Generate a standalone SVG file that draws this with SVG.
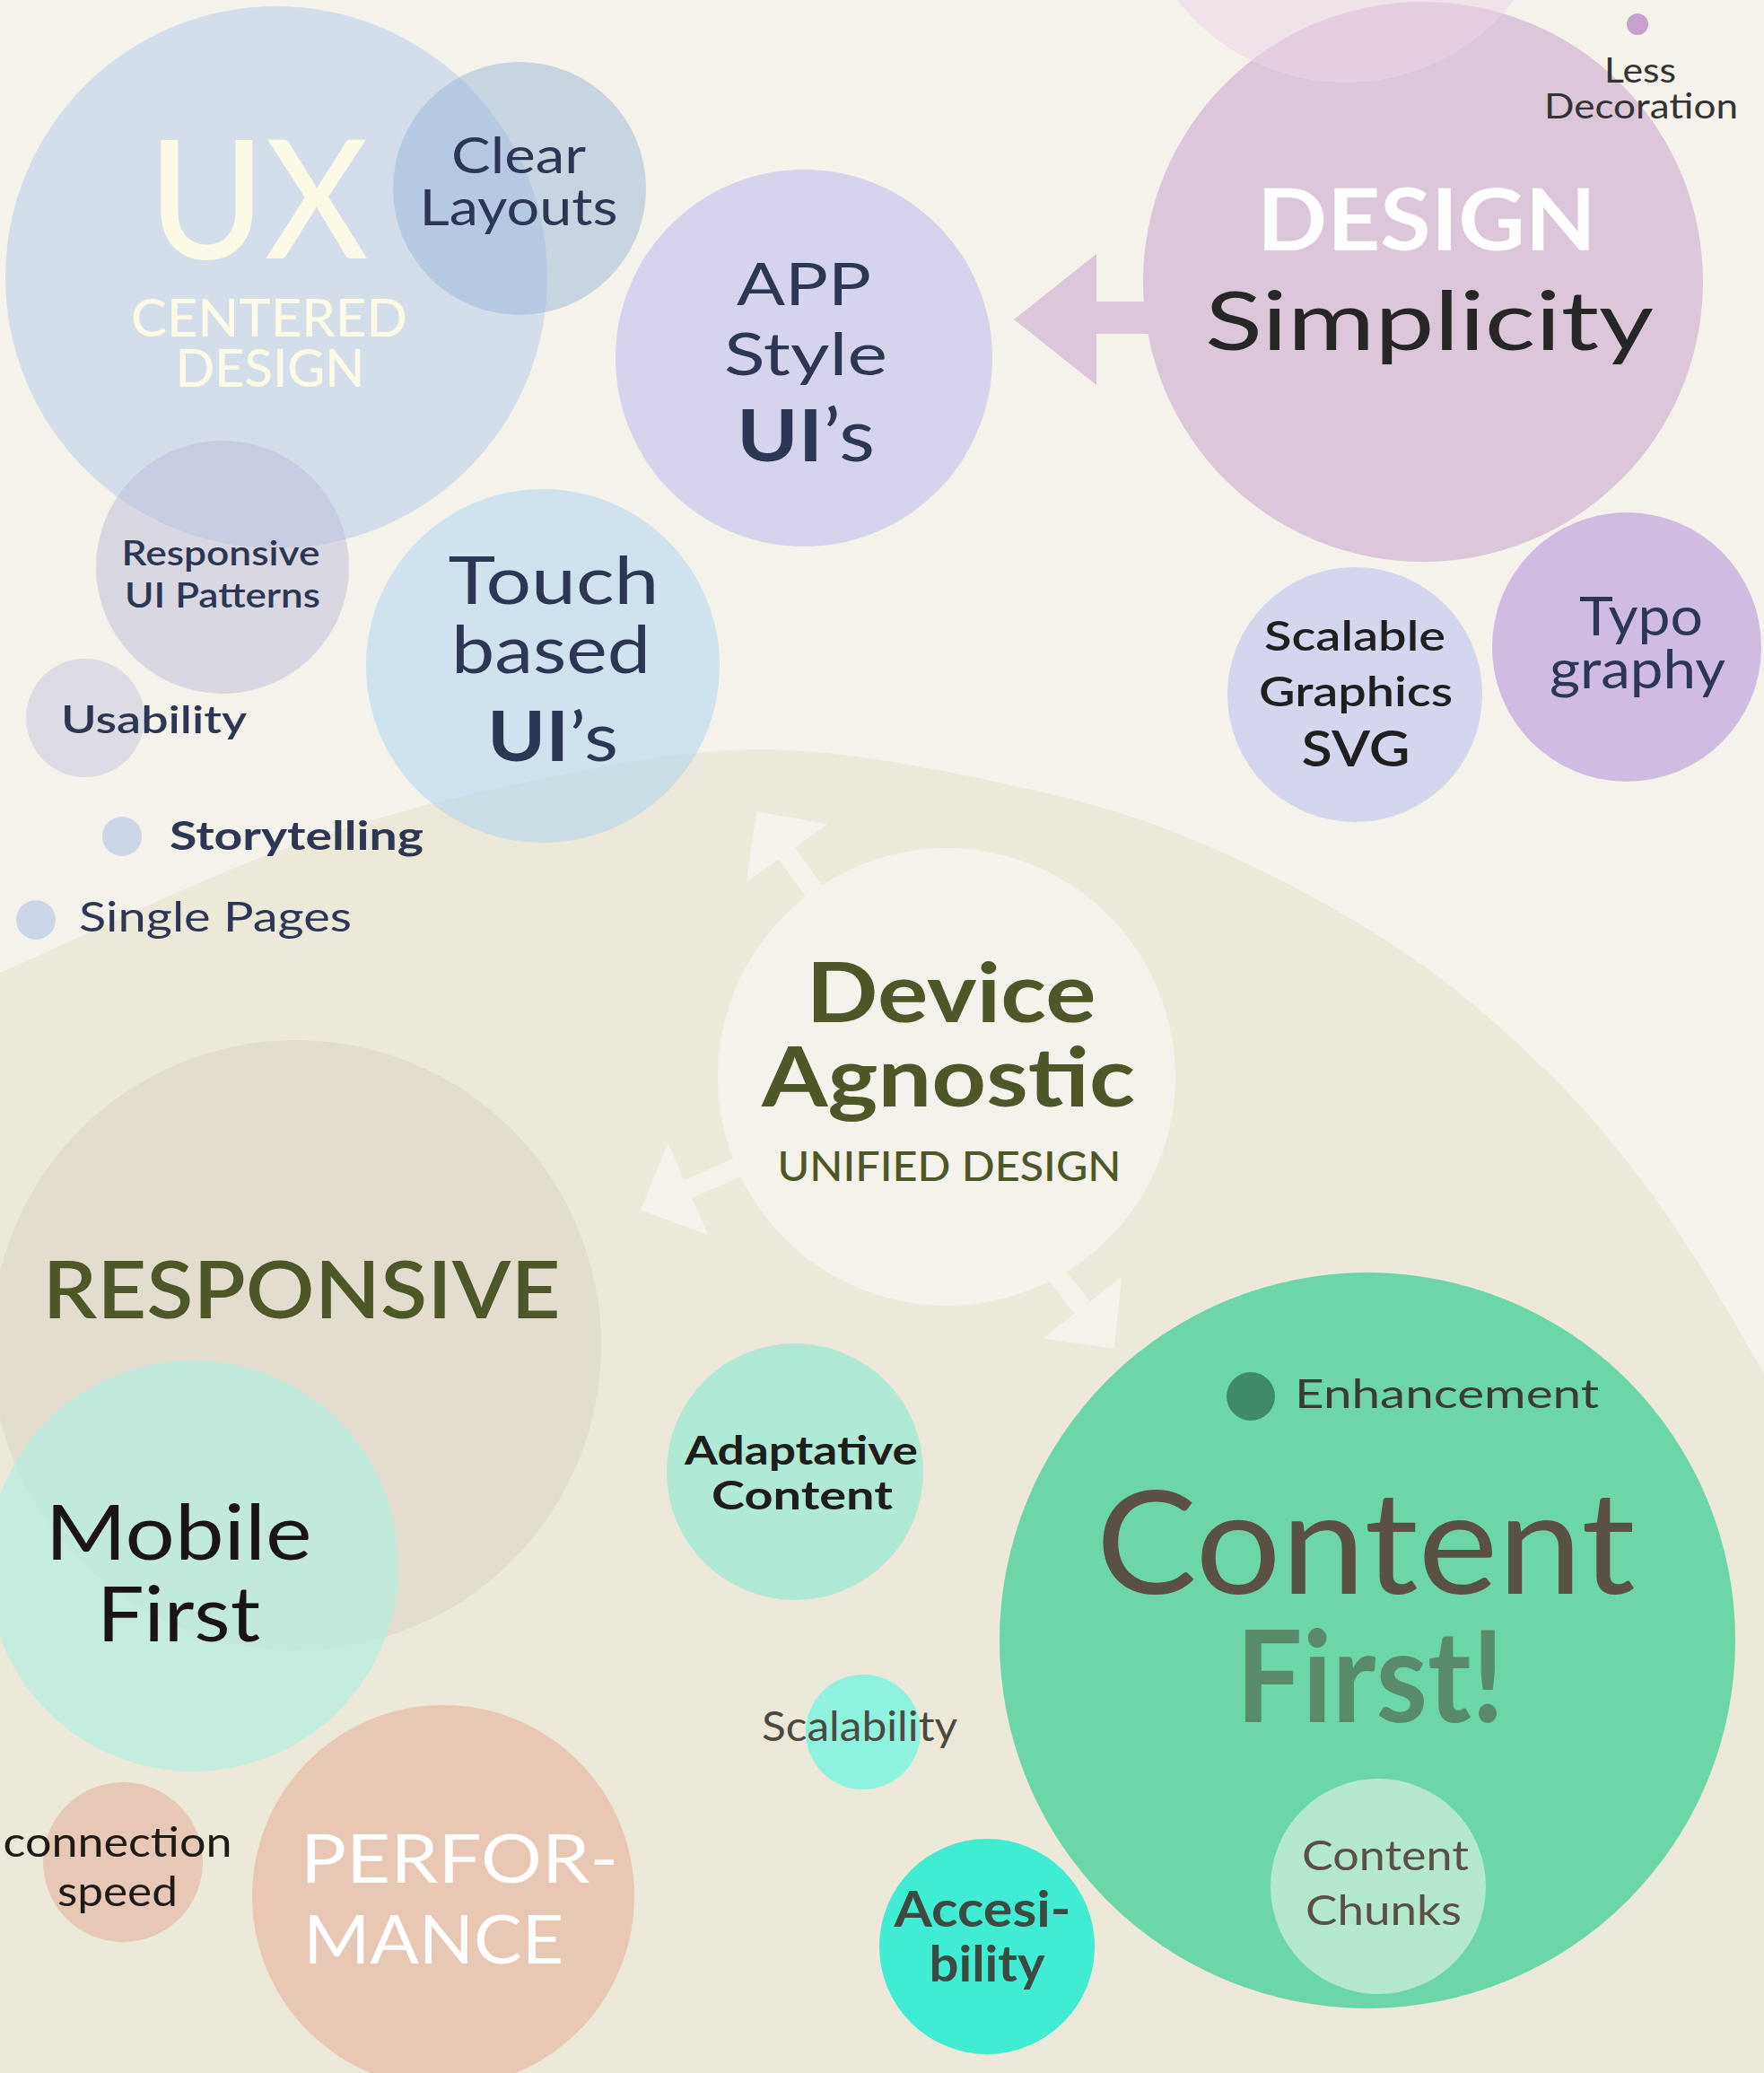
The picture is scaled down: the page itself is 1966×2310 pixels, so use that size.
<svg xmlns="http://www.w3.org/2000/svg" width="1966" height="2310" viewBox="0 0 1966 2310">
<style>
text{font-family:Lato,"Noto Sans","Liberation Sans",sans-serif;}
.c{text-anchor:middle;}
.s{text-anchor:start;}
.navy{fill:#2D3652;}
.olive{fill:#4E5727;}
.b{font-weight:700;}
.sb{font-weight:600;}
.m{font-weight:500;}
.arr{stroke:#F4F2EA;stroke-width:22;fill:none;marker-end:url(#ah);}
</style>
<defs>
<marker id="ah" markerUnits="userSpaceOnUse" markerWidth="60" markerHeight="112" viewBox="0 0 60 112" refX="0" refY="56" orient="auto">
<path d="M0,0 L58,56 L0,112 Z" fill="#F4F2EA"/>
</marker>
</defs>
<rect width="1966" height="2310" fill="#F4F2EA"/>
<path id="beige-region" d="M0,1084 C100,1040 207,987 300,952 C393,918 468,897 560,877 C652,858 752,835 850,835 C948,836 1065,861 1150,880 C1235,899 1289,918 1358,948 C1427,978 1505,1021 1566,1062 C1627,1103 1679,1150 1722,1192 C1766,1234 1797,1273 1827,1312 C1858,1351 1882,1391 1905,1427 C1928,1464 1946,1496 1966,1531 L1966,2310 L0,2310 Z" fill="#ECE8DA"/>

<g id="connectors">
<polygon id="arrow-design-app" points="1130,356 1222,283 1222,336 1295,336 1295,372 1222,372 1222,429" fill="#DCC6DA"/>
<line id="arrow-device-up" class="arr" x1="918" y1="1008" x2="877" y2="951"/>
<line id="arrow-device-left" class="arr" x1="831" y1="1297" x2="767" y2="1325"/>
<line id="arrow-device-content" class="arr" x1="1163" y1="1402" x2="1206" y2="1457"/>
</g>

<g id="n-ux">
<circle cx="308" cy="309" r="302" fill="#D4DEEA"/>
<text class="c m" x="288" y="288" font-size="184" fill="#FCFAE6" textLength="245" lengthAdjust="spacingAndGlyphs">UX</text>
<text class="c m" x="300" y="375" font-size="57" fill="#FCFAE6" textLength="308" lengthAdjust="spacingAndGlyphs">CENTERED</text>
<text class="c m" x="301" y="431" font-size="57" fill="#FCFAE6" textLength="211" lengthAdjust="spacingAndGlyphs">DESIGN</text>
</g>
<g id="n-clear-layouts">
<circle cx="579" cy="210" r="141" fill="#94AFD6" fill-opacity="0.45"/>
<text class="c navy" x="578" y="193" font-size="56" textLength="150" lengthAdjust="spacingAndGlyphs">Clear</text>
<text class="c navy" x="578" y="251" font-size="56" textLength="221" lengthAdjust="spacingAndGlyphs">Layouts</text>
</g>
<g id="n-responsive-ui">
<circle cx="248" cy="632" r="141" fill="#B8B6D8" fill-opacity="0.45"/>
<text class="c navy sb" x="246" y="630" font-size="38" textLength="221" lengthAdjust="spacingAndGlyphs">Responsive</text>
<text class="c navy sb" x="248" y="677" font-size="38" textLength="218" lengthAdjust="spacingAndGlyphs">UI Patterns</text>
</g>
<g id="n-app-style">
<circle cx="896" cy="399" r="210" fill="#D5D4EC"/>
<text class="c navy" x="896" y="340" font-size="66" textLength="150" lengthAdjust="spacingAndGlyphs">APP</text>
<text class="c navy" x="898" y="418" font-size="66" textLength="182" lengthAdjust="spacingAndGlyphs">Style</text>
<text class="c navy" x="898" y="514" font-size="81" textLength="154" lengthAdjust="spacingAndGlyphs"><tspan class="b">UI</tspan>’s</text>
</g>
<g id="n-touch">
<circle cx="605" cy="742" r="197" fill="#B1D5EE" fill-opacity="0.55"/>
<text class="c navy" x="617" y="673" font-size="73" textLength="235" lengthAdjust="spacingAndGlyphs">Touch</text>
<text class="c navy" x="614" y="750" font-size="73" textLength="222" lengthAdjust="spacingAndGlyphs">based</text>
<text class="c navy" x="616" y="848" font-size="76" textLength="146" lengthAdjust="spacingAndGlyphs"><tspan class="b">UI</tspan>’s</text>
</g>
<g id="n-usability">
<circle cx="95" cy="800" r="66" fill="#DDDBE4"/>
<text class="s navy sb" x="68" y="817" font-size="43" textLength="207" lengthAdjust="spacingAndGlyphs">Usability</text>
</g>
<g id="n-storytelling">
<circle cx="136" cy="932" r="22" fill="#CCD6E6"/>
<text class="s navy b" x="189" y="947" font-size="43" textLength="283" lengthAdjust="spacingAndGlyphs">Storytelling</text>
</g>
<g id="n-single-pages">
<circle cx="40" cy="1025" r="22" fill="#CCD6E6"/>
<text class="s navy" x="88" y="1038" font-size="47" textLength="304" lengthAdjust="spacingAndGlyphs">Single Pages</text>
</g>

<g id="n-design-simplicity">
<circle cx="1586" cy="314" r="312" fill="#DCC6DA"/>
<circle cx="1500" cy="-146" r="238" fill="#EBD6E6" fill-opacity="0.55"/>
<text class="c b" x="1590" y="279" font-size="95" fill="#FFFFFF" textLength="378" lengthAdjust="spacingAndGlyphs">DESIGN</text>
<text class="c" x="1593" y="390" font-size="92" fill="#262626" textLength="500" lengthAdjust="spacingAndGlyphs">Simplicity</text>
</g>
<g id="n-less-decoration">
<circle cx="1825" cy="27" r="12" fill="#C8A2CF"/>
<text class="c" x="1828" y="92" font-size="39" fill="#333333" textLength="80" lengthAdjust="spacingAndGlyphs">Less</text>
<text class="c" x="1829" y="132" font-size="39" fill="#333333" textLength="216" lengthAdjust="spacingAndGlyphs">Decoration</text>
</g>
<g id="n-scalable-graphics">
<circle cx="1510" cy="774" r="142" fill="#D3D6ED"/>
<text class="c sb" x="1510" y="725" font-size="46" fill="#1F1F1F" textLength="202" lengthAdjust="spacingAndGlyphs">Scalable</text>
<text class="c sb" x="1511" y="787" font-size="46" fill="#1F1F1F" textLength="216" lengthAdjust="spacingAndGlyphs">Graphics</text>
<text class="c sb" x="1511" y="854" font-size="56" fill="#1F1F1F" textLength="121" lengthAdjust="spacingAndGlyphs">SVG</text>
</g>
<g id="n-typography">
<circle cx="1813" cy="721" r="150" fill="#D0BCE0"/>
<text class="c navy" x="1829" y="708" font-size="60" textLength="138" lengthAdjust="spacingAndGlyphs">Typo</text>
<text class="c navy" x="1825" y="767" font-size="60" textLength="196" lengthAdjust="spacingAndGlyphs">graphy</text>
</g>

<g id="n-device-agnostic">
<circle cx="1055" cy="1200" r="255" fill="#F4F2EA"/>
<text class="c olive b" x="1060" y="1139" font-size="92" textLength="323" lengthAdjust="spacingAndGlyphs">Device</text>
<text class="c olive b" x="1057" y="1233" font-size="92" textLength="416" lengthAdjust="spacingAndGlyphs">Agnostic</text>
<text class="c olive m" x="1058" y="1316" font-size="47" textLength="383" lengthAdjust="spacingAndGlyphs">UNIFIED DESIGN</text>
</g>

<g id="n-responsive">
<circle cx="330" cy="1499" r="340" fill="#E2DDCF"/>
<text class="c olive sb" x="336" y="1469" font-size="89" textLength="577" lengthAdjust="spacingAndGlyphs">RESPONSIVE</text>
</g>
<g id="n-mobile-first">
<circle cx="215" cy="1745" r="229" fill="#B3F0E1" fill-opacity="0.7"/>
<text class="c" x="199" y="1738" font-size="85" fill="#1A1414" textLength="297" lengthAdjust="spacingAndGlyphs">Mobile</text>
<text class="c" x="199" y="1829" font-size="85" fill="#1A1414" textLength="182" lengthAdjust="spacingAndGlyphs">First</text>
</g>
<g id="n-adaptative">
<circle cx="886" cy="1640" r="143" fill="#B0E9D5"/>
<text class="c b" x="893" y="1632" font-size="43" fill="#1D1D1B" textLength="260" lengthAdjust="spacingAndGlyphs">Adaptative</text>
<text class="c b" x="894" y="1682" font-size="43" fill="#1D1D1B" textLength="202" lengthAdjust="spacingAndGlyphs">Content</text>
</g>

<g id="n-content-first">
<circle cx="1524" cy="1828" r="410" fill="#6DD6A9"/>
<text class="c" x="1522" y="1776" font-size="160" fill="#5B5045" textLength="601" lengthAdjust="spacingAndGlyphs">Content</text>
<text class="c b" x="1527" y="1919" font-size="141" fill="#578B6B" textLength="299" lengthAdjust="spacingAndGlyphs">First!</text>
</g>
<g id="n-enhancement">
<circle cx="1394" cy="1556" r="27" fill="#3F8B68"/>
<text class="s" x="1443" y="1569" font-size="45" fill="#3B3B33" textLength="339" lengthAdjust="spacingAndGlyphs">Enhancement</text>
</g>
<g id="n-content-chunks">
<circle cx="1536" cy="2102" r="120" fill="#B3E8CE"/>
<text class="c" x="1544" y="2084" font-size="47" fill="#5B5045" textLength="186" lengthAdjust="spacingAndGlyphs">Content</text>
<text class="c" x="1542" y="2145" font-size="47" fill="#5B5045" textLength="174" lengthAdjust="spacingAndGlyphs">Chunks</text>
</g>
<g id="n-scalability">
<circle cx="962" cy="1930" r="64" fill="#8EF2DF"/>
<text class="c" x="958" y="1940" font-size="46" fill="#4C4A40" textLength="218" lengthAdjust="spacingAndGlyphs">Scalability</text>
</g>
<g id="n-accesibility">
<circle cx="1100" cy="2169" r="120" fill="#40EDD3"/>
<text class="c b" x="1095" y="2147" font-size="56" fill="#3C4A42" textLength="197" lengthAdjust="spacingAndGlyphs">Accesi-</text>
<text class="c b" x="1100" y="2208" font-size="56" fill="#3C4A42" textLength="129" lengthAdjust="spacingAndGlyphs">bility</text>
</g>
<g id="n-connection-speed">
<circle cx="137" cy="2075" r="89" fill="#E7C8B6"/>
<text class="c" x="131" y="2069" font-size="46" fill="#1E1A18" textLength="255" lengthAdjust="spacingAndGlyphs">connection</text>
<text class="c" x="131" y="2124" font-size="46" fill="#1E1A18" textLength="134" lengthAdjust="spacingAndGlyphs">speed</text>
</g>
<g id="n-performance">
<circle cx="494" cy="2113" r="213" fill="#E8C8B4"/>
<text class="s" x="335" y="2098" font-size="76" fill="#FFFFFF" textLength="354" lengthAdjust="spacingAndGlyphs">PERFOR-</text>
<text class="s" x="338" y="2188" font-size="76" fill="#FFFFFF" textLength="290" lengthAdjust="spacingAndGlyphs">MANCE</text>
</g>
</svg>
